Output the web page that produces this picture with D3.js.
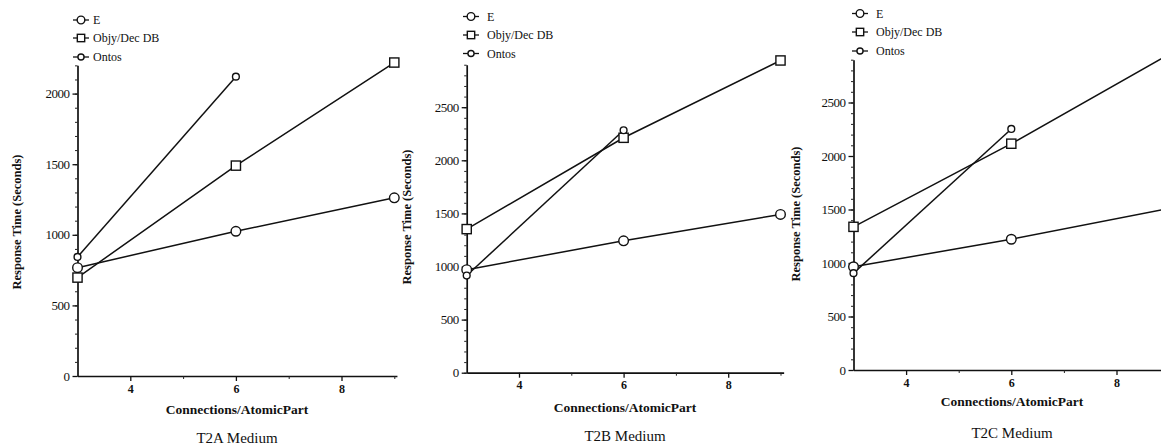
<!DOCTYPE html>
<html>
<head>
<meta charset="utf-8">
<script src="https://cdn.jsdelivr.net/npm/d3@7"></script>
<style>
  html, body { margin: 0; padding: 0; background: #fff; }
  svg { display: block; }
  svg text { font-family: "Liberation Serif", "DejaVu Serif", serif; fill: #111; }
</style>
</head>
<body>
<svg id="chart" width="1161" height="446"></svg>
<script>
// Connections per AtomicPart on the x axis
const xValues = [3, 6, 9];
const seriesNames = ["E", "Objy/Dec DB", "Ontos"];
const panelTitles = ["T2A Medium", "T2B Medium", "T2C Medium"];

// Response times in seconds (Ontos only measured up to 6 connections)
const t2aE     = [767, 1025, 1262];
const t2aObjy  = [697, 1490, 2220];
const t2aOntos = [843, 2120];

const t2bE     = [970, 1242, 1490];
const t2bObjy  = [1352, 2212, 2940];
const t2bOntos = [915, 2283];

const t2cE     = [965, 1222, 1510];
const t2cObjy  = [1338, 2115, 2950];
const t2cOntos = [905, 2253];

const yMaxes = [2200, 2900, 2900];
const yTickValues = [[0, 500, 1000, 1500, 2000], [0, 500, 1000, 1500, 2000, 2500], [0, 500, 1000, 1500, 2000, 2500]];
const xTickValues = [4, 6, 8];
const xMinorTicks = [5, 7, 9];

const panelData = [
  [t2aE, t2aObjy, t2aOntos],
  [t2bE, t2bObjy, t2bOntos],
  [t2cE, t2cObjy, t2cOntos]
];

// Layout of each panel: axis origin, pixels per x unit, pixels per 500 s, text anchors
const layout = [
  { x0: 77.5, y0: 376, xUnit: 52.8, yStep: 70.6, xEnd: 9.05, yTitleX: 17, yTitleY: 222, xTitleX: 237, xTitleY: 414, subY: 443, legX: 81, legY: [20, 38, 57], legTextX: 93 },
  { x0: 466.7, y0: 372.7, xUnit: 52.3, yStep: 53.1, xEnd: 9.06, yTitleX: 407, yTitleY: 217, xTitleX: 625, xTitleY: 412, subY: 441, legX: 471, legY: [16.5, 35, 53.5], legTextX: 487 },
  { x0: 853.5, y0: 370, xUnit: 52.6, yStep: 53.5, xEnd: 9.3, yTitleX: 796, yTitleY: 214, xTitleX: 1012, xTitleY: 406, subY: 438, legX: 860, legY: [13.5, 32, 51], legTextX: 876 }
];

const SERIF = '"Liberation Serif", "DejaVu Serif", serif';
const svg = d3.select("#chart");

// Marker drawing for each series
function drawMarker(g, type, cx, cy, scale) {
  const s = scale || 1;
  if (type === 0) {
    g.append("circle").attr("cx", cx).attr("cy", cy).attr("r", 4.8 * s)
      .attr("fill", "#fff").attr("stroke", "#111").attr("stroke-width", 1.4);
  } else if (type === 1) {
    const h = 4.6 * s;
    g.append("rect").attr("x", cx - h).attr("y", cy - h).attr("width", 2 * h).attr("height", 2 * h)
      .attr("fill", "#fff").attr("stroke", "#111").attr("stroke-width", 1.4);
  } else {
    g.append("circle").attr("cx", cx).attr("cy", cy).attr("r", 3.4 * s)
      .attr("fill", "#fff").attr("stroke", "#111").attr("stroke-width", 1.4);
  }
}

panelData.forEach((series, p) => {
  const L = layout[p];
  const yMax = yMaxes[p];
  const x = d3.scaleLinear().domain([3, L.xEnd]).range([L.x0, L.x0 + (L.xEnd - 3) * L.xUnit]);
  const y = d3.scaleLinear().domain([0, yMax]).range([L.y0, L.y0 - yMax / 500 * L.yStep]);
  const g = svg.append("g");

  // y axis: minor ticks every 100 s, major ticks with labels every 500 s
  const minorY = d3.range(0, yMax + 1, 100);
  g.append("g").attr("transform", `translate(${L.x0},0)`)
    .call(d3.axisLeft(y).tickValues(minorY).tickSize(2.5).tickFormat("").tickSizeOuter(0))
    .call(a => a.selectAll("line").attr("stroke", "#222").attr("stroke-width", 1))
    .call(a => a.select(".domain").attr("stroke", "#111").attr("stroke-width", 1.7));
  g.append("g").attr("transform", `translate(${L.x0},0)`)
    .call(d3.axisLeft(y).tickValues(yTickValues[p]).tickSize(5).tickPadding(3)
      .tickFormat(d3.format("d")).tickSizeOuter(0))
    .call(a => a.select(".domain").remove())
    .call(a => a.selectAll("line").attr("stroke", "#111").attr("stroke-width", 1.3))
    .call(a => a.selectAll("text").style("font-family", SERIF).style("font-size", "13px")
      .attr("fill", "#111").attr("letter-spacing", -0.5));

  // x axis
  g.append("g").attr("transform", `translate(0,${L.y0})`)
    .call(d3.axisBottom(x).tickValues(xMinorTicks).tickSize(3).tickFormat("").tickSizeOuter(0))
    .call(a => a.selectAll("line").attr("stroke", "#222").attr("stroke-width", 1))
    .call(a => a.select(".domain").attr("stroke", "#111").attr("stroke-width", 1.7));
  g.append("g").attr("transform", `translate(0,${L.y0})`)
    .call(d3.axisBottom(x).tickValues(xTickValues).tickSize(5).tickPadding(3)
      .tickFormat(d3.format("d")).tickSizeOuter(0))
    .call(a => a.select(".domain").remove())
    .call(a => a.selectAll("line").attr("stroke", "#111").attr("stroke-width", 1.3))
    .call(a => a.selectAll("text").style("font-family", SERIF).style("font-size", "12px")
      .style("font-weight", "bold").attr("fill", "#111"));

  // axis titles and panel caption
  g.append("text")
    .attr("transform", `translate(${L.yTitleX},${L.yTitleY}) rotate(-90)`)
    .attr("text-anchor", "middle").attr("dominant-baseline", "central")
    .style("font-family", SERIF).style("font-size", "12.5px").style("font-weight", "bold")
    .text("Response Time (Seconds)");
  g.append("text")
    .attr("x", L.xTitleX).attr("y", L.xTitleY)
    .attr("text-anchor", "middle")
    .style("font-family", SERIF).style("font-size", "13.5px").style("font-weight", "bold")
    .text("Connections/AtomicPart");
  g.append("text")
    .attr("x", L.xTitleX).attr("y", L.subY)
    .attr("text-anchor", "middle")
    .style("font-family", SERIF).style("font-size", "15px")
    .text(panelTitles[p]);

  // series lines and markers
  const line = d3.line().x((d, i) => x(xValues[i])).y(d => y(d));
  series.forEach((vals) => {
    g.append("path").datum(vals)
      .attr("d", line).attr("fill", "none")
      .attr("stroke", "#111").attr("stroke-width", 1.5);
  });
  series.forEach((vals, s) => {
    vals.forEach((v, i) => drawMarker(g, s, x(xValues[i]), y(v)));
  });

  // legend
  seriesNames.forEach((name, s) => {
    const ly = L.legY[s];
    g.append("line").attr("x1", L.legX - 8).attr("x2", L.legX + 8).attr("y1", ly).attr("y2", ly)
      .attr("stroke", "#111").attr("stroke-width", 1.3);
    drawMarker(g, s, L.legX, ly, s === 2 ? 0.9 : 0.8);
    g.append("text").attr("x", L.legTextX).attr("y", ly).attr("dominant-baseline", "central")
      .style("font-family", SERIF).style("font-size", "12px").text(name);
  });
});
</script>
</body>
</html>
